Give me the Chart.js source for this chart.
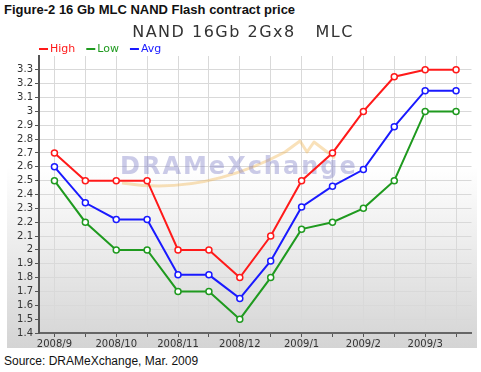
<!DOCTYPE html>
<html>
<head>
<meta charset="utf-8">
<script src="https://cdn.jsdelivr.net/npm/chart.js@4.4.0/dist/chart.umd.min.js"></script>
<style>
  body { margin: 0; width: 481px; height: 372px; background: #fff; position: relative; overflow: hidden; }
  #title { position: absolute; left: 4px; top: 2px; font: bold 13px "Liberation Sans", Arial, sans-serif; color: #111; }
  #box { position: absolute; left: 7px; top: 18px; width: 470px; height: 330px;
         background: linear-gradient(to bottom, #ffffff 0%, #ffffff 45%, #d4d4d4 100%); }
  #source { position: absolute; left: 4px; top: 354px; font: 12px "Liberation Sans", Arial, sans-serif; color: #111; }
</style>
</head>
<body>
<div id="title">Figure-2 16 Gb MLC NAND Flash contract price</div>
<div id="box"><canvas id="priceChart" width="470" height="330"></canvas></div>
<div id="source">Source: DRAMeXchange, Mar. 2009</div>
<script>
// Chart data (half-month points, labels on the first half of each month)
const categories = ['2008/9', '', '2008/10', '', '2008/11', '', '2008/12', '', '2009/1', '', '2009/2', '', '2009/3', ''];
const highPrice = [2.7, 2.5, 2.5, 2.5, 2.0, 2.0, 1.8, 2.1, 2.5, 2.7, 3.0, 3.25, 3.3, 3.3];
const lowPrice = [2.5, 2.2, 2.0, 2.0, 1.7, 1.7, 1.5, 1.8, 2.15, 2.2, 2.3, 2.5, 3.0, 3.0];
const avgPrice = [2.6, 2.34, 2.22, 2.22, 1.82, 1.82, 1.65, 1.92, 2.31, 2.46, 2.58, 2.89, 3.15, 3.15];
const chartTitle = 'NAND 16Gb 2Gx8   MLC';
const watermark = 'DRAMeXchange';

// Title, legend and watermark drawn on the canvas
const decorations = {
    id: 'decorations',
    beforeDatasetsDraw(chart) {
        const ctx = chart.ctx;
        ctx.save();
        // faint swoosh behind the logo text
        ctx.strokeStyle = 'rgba(240, 180, 80, 0.4)';
        ctx.lineWidth = 3;
        ctx.lineJoin = 'round';
        ctx.beginPath();
        ctx.moveTo(115, 165);
        ctx.quadraticCurveTo(195, 178, 278, 134);
        ctx.lineTo(293, 123);
        ctx.lineTo(300, 134);
        ctx.lineTo(307, 124);
        ctx.lineTo(328, 140);
        ctx.stroke();
        ctx.font = 'bold 24px "DejaVu Sans", sans-serif';
        ctx.letterSpacing = '2px';
        ctx.fillStyle = 'rgba(110, 110, 190, 0.36)';
        ctx.textBaseline = 'alphabetic';
        ctx.fillText(watermark, 113, 156);
        ctx.restore();
    },
    afterDraw(chart) {
        const ctx = chart.ctx;
        ctx.save();
        ctx.font = '16px "DejaVu Sans", sans-serif';
        ctx.letterSpacing = '1.5px';
        ctx.fillStyle = '#333';
        ctx.textAlign = 'center';
        ctx.textBaseline = 'alphabetic';
        ctx.fillText(chartTitle, 236, 19);

        // legend
        ctx.letterSpacing = '0px';
        ctx.font = '11px "DejaVu Sans", sans-serif';
        ctx.textAlign = 'left';
        ctx.textBaseline = 'middle';
        let x = 32;
        const y = 31;
        chart.data.datasets.forEach(ds => {
            ctx.strokeStyle = ds.borderColor;
            ctx.lineWidth = 2;
            ctx.beginPath();
            ctx.moveTo(x, y);
            ctx.lineTo(x + 9, y);
            ctx.stroke();
            ctx.fillStyle = ds.borderColor;
            ctx.fillText(ds.label, x + 11, y);
            x += 11 + ctx.measureText(ds.label).width + 11;
        });
        ctx.restore();
    }
};

function series(label, data, color) {
    return {
        label: label,
        data: data,
        borderColor: color,
        backgroundColor: '#ffffff',
        borderWidth: 2,
        pointRadius: 3,
        pointBorderWidth: 1.5,
        pointBackgroundColor: '#ffffff',
        tension: 0
    };
}

const priceCtx = document.getElementById('priceChart').getContext('2d');
const priceChart = new Chart(priceCtx, {
    type: 'line',
    data: {
        labels: categories,
        datasets: [
            series('High', highPrice, '#ff1a1a'),
            series('Low', lowPrice, '#1f9a1f'),
            series('Avg', avgPrice, '#1a1aff')
        ]
    },
    options: {
        responsive: false,
        animation: false,
        devicePixelRatio: 1,
        layout: {
            padding: { top: 38, right: 1, left: 0, bottom: 0 }
        },
        plugins: {
            legend: { display: false },
            tooltip: { enabled: false }
        },
        scales: {
            x: {
                offset: true,
                grid: {
                    color: '#d9d9d9',
                    tickColor: '#555',
                    tickLength: 4
                },
                border: { color: '#666', width: 2 },
                ticks: {
                    autoSkip: false,
                    maxRotation: 0,
                    padding: 1,
                    color: '#333',
                    font: { family: 'DejaVu Sans', size: 10 }
                },
                afterFit: function(scale) { scale.height = 15; }
            },
            y: {
                min: 1.4,
                max: 3.4,
                grid: {
                    color: ctx => (ctx.tick && ctx.tick.value > 3.35) ? 'rgba(0,0,0,0)' : '#d9d9d9',
                    tickColor: ctx => (ctx.tick && ctx.tick.value > 3.35) ? 'rgba(0,0,0,0)' : '#555',
                    tickLength: 4
                },
                border: { color: '#555', width: 2 },
                ticks: {
                    stepSize: 0.1,
                    maxTicksLimit: 30,
                    autoSkip: false,
                    padding: 2,
                    color: '#333',
                    font: { family: 'DejaVu Sans', size: 10 },
                    callback: v => v > 3.35 ? '' : String(Math.round(v * 10) / 10)
                },
                afterFit: function(scale) { scale.width = 32; }
            }
        }
    },
    plugins: [decorations]
});
</script>
</body>
</html>
